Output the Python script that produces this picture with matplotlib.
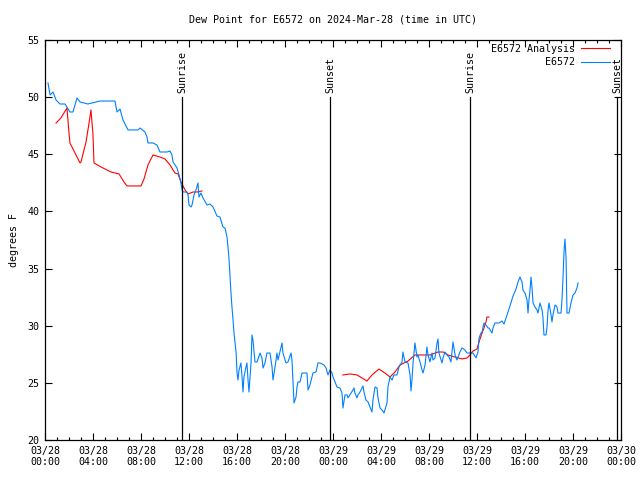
import numpy as np
import pandas as pd
import matplotlib
matplotlib.use("Agg")
import matplotlib.pyplot as plt
import matplotlib.dates as mdates

plt.rcParams['font.family'] = ['DejaVu Sans Mono']
plt.rcParams['font.size'] = 7.2

base = pd.Timestamp("2024-03-28 00:00")

# station obs: hours since 03/28 00:00 UTC, dew point degF
obs_hours = [0.25, 0.42, 0.67, 0.92, 1.25, 1.67, 2.08, 2.33, 2.67, 2.92, 3.58, 4.58, 5.83, 6.0, 6.25,
             6.5, 6.92, 7.75, 7.92, 8.33, 8.5, 8.58, 9.0, 9.33, 9.58, 10.17, 10.42, 10.58, 10.67, 11.0,
             11.17, 11.33, 11.42, 11.5, 11.83, 11.92, 12.0, 12.17, 12.25, 12.42, 12.58, 12.75, 12.83, 13.0, 13.17,
             13.5, 13.75, 14.0, 14.33, 14.58, 14.83, 15.0, 15.17, 15.25, 15.33, 15.42, 15.5, 15.58, 15.67, 15.75,
             15.92, 16.0, 16.08, 16.17, 16.33, 16.42, 16.5, 16.58, 16.75, 16.83, 16.92, 17.0, 17.17, 17.25, 17.33,
             17.5, 17.67, 17.92, 18.08, 18.17, 18.33, 18.5, 18.75, 18.92, 19.0, 19.17, 19.33, 19.42, 19.75, 19.83,
             20.08, 20.25, 20.5, 20.58, 20.67, 20.75, 20.92, 21.0, 21.08, 21.25, 21.42, 21.83, 21.92, 22.08, 22.25,
             22.33, 22.58, 22.75, 22.92, 23.25, 23.42, 23.58, 23.75, 23.92, 24.0, 24.17, 24.33, 24.58, 24.75, 24.83,
             25.0, 25.17, 25.25, 25.5, 25.67, 25.75, 25.83, 26.0, 26.08, 26.25, 26.5, 26.58, 26.75, 26.92, 27.08,
             27.25, 27.33, 27.5, 27.67, 27.75, 27.92, 28.08, 28.25, 28.5, 28.58, 28.75, 28.92, 29.08, 29.33, 29.5,
             29.75, 29.83, 30.0, 30.25, 30.42, 30.5, 30.58, 30.67, 30.83, 31.0, 31.08, 31.25, 31.42, 31.5, 31.67,
             31.83, 31.92, 32.08, 32.25, 32.33, 32.5, 32.67, 32.75, 32.83, 33.08, 33.17, 33.33, 33.5, 33.67, 33.83,
             34.0, 34.17, 34.33, 34.42, 34.58, 34.75, 35.0, 35.17, 35.33, 35.67, 35.92, 36.08, 36.17, 36.33, 36.42,
             36.58, 36.75, 36.92, 37.0, 37.25, 37.33, 37.5, 37.83, 38.08, 38.25, 38.5, 38.75, 39.0, 39.25, 39.42,
             39.58, 39.75, 39.83, 40.0, 40.17, 40.25, 40.33, 40.42, 40.5, 40.58, 40.67, 40.83, 41.0, 41.08, 41.25,
             41.42, 41.5, 41.58, 41.75, 41.83, 41.92, 42.0, 42.17, 42.25, 42.33, 42.5, 42.67, 42.75, 43.0, 43.08,
             43.17, 43.25, 43.33, 43.42, 43.5, 43.67, 43.83, 44.0, 44.17, 44.33, 44.42]
obs_dewp = [51.24, 50.19, 50.45, 49.75, 49.4, 49.4, 48.7, 48.7, 49.93, 49.58, 49.4, 49.66, 49.66, 48.7, 48.96,
            48.0, 47.13, 47.13, 47.3, 46.95, 46.51, 45.99, 45.99, 45.81, 45.2, 45.2, 45.29, 44.94, 44.33, 43.8,
            43.19, 42.49, 41.88, 41.7, 41.7, 41.44, 40.56, 40.39, 40.56, 41.44, 41.88, 42.49, 41.26, 41.61, 41.18,
            40.56, 40.65, 40.39, 39.6, 39.51, 38.64, 38.55, 37.76, 36.8, 35.93, 34.26, 32.86, 31.64, 30.5, 29.36,
            27.7, 25.95, 25.25, 26.13, 26.74, 25.51, 24.2, 25.51, 26.39, 26.74, 25.25, 24.2, 26.74, 29.19, 28.75,
            26.83, 26.83, 27.61, 27.18, 26.3, 26.74, 27.61, 27.61, 26.39, 25.25, 26.39, 27.61, 27.0, 28.49, 27.61,
            26.74, 26.83, 27.61, 27.0, 25.08, 23.24, 23.76, 24.64, 25.08, 25.08, 25.86, 25.86, 24.38, 24.81, 25.51,
            25.86, 25.95, 26.74, 26.74, 26.56, 26.3, 25.69, 26.13, 25.86, 25.51, 25.08, 24.64, 24.55, 24.11, 22.8,
            23.94, 23.94, 23.68, 24.11, 24.38, 24.55, 24.11, 23.68, 23.94, 24.2, 24.73, 24.2, 23.5, 23.33, 22.89,
            22.45, 23.5, 24.64, 24.55, 23.68, 22.8, 22.63, 22.36, 23.24, 24.64, 25.51, 25.25, 25.69, 25.69, 26.39,
            26.83, 27.7, 26.83, 26.74, 25.69, 24.29, 25.25, 26.74, 28.49, 27.26, 27.44, 26.83, 26.13, 25.86, 26.56,
            28.14, 27.44, 26.83, 27.61, 27.0, 27.18, 28.49, 28.84, 27.61, 26.74, 27.18, 27.7, 27.44, 27.26, 26.83,
            28.58, 27.44, 27.0, 27.26, 27.7, 28.05, 27.88, 27.61, 27.61, 27.61, 27.18, 27.7, 28.93, 29.36, 29.45,
            30.24, 30.06, 29.8, 29.8, 29.36, 29.8, 30.24, 30.24, 30.41, 30.15, 30.94, 31.73, 32.6, 33.21, 33.83,
            34.26, 33.83, 33.13, 32.86, 32.25, 31.11, 32.25, 33.13, 34.26, 33.39, 31.99, 31.64, 31.38, 31.11, 31.99,
            31.38, 30.68, 29.19, 29.19, 29.8, 31.38, 31.99, 30.94, 30.33, 30.94, 31.81, 31.64, 31.11, 31.11, 32.25,
            34.26, 36.45, 37.59, 35.93, 31.11, 31.11, 31.99, 32.69, 32.86, 33.3, 33.74]

# analysis (NaN = no data gap)
ana_hours = [0.92, 1.33, 1.83, 2.0, 2.08, 2.92, 3.0, 3.42, 3.67, 3.83, 4.0, 4.08, 4.67, 5.5, 6.17,
             6.58, 6.83, 8.0, 8.25, 8.58, 9.0, 9.58, 10.0, 10.42, 10.83, 11.08, 11.33, 11.67, 11.92, 12.33,
             12.67, 13.08, 18.0,
             24.83, 25.42, 26.0, 26.42, 26.83, 27.25, 27.83, 28.33, 28.75, 29.17, 29.58, 30.25, 30.83, 32.08, 32.75,
             33.17, 33.58, 34.17, 34.75, 35.17, 35.42, 35.67, 36.0, 36.17, 36.42, 36.58, 36.75, 36.83, 37.0]
ana_dewp = [47.74, 48.18, 49.05, 46.86, 45.99, 44.24, 44.33, 46.08, 47.74, 48.88, 46.69, 44.24, 43.89, 43.45, 43.28,
            42.58, 42.23, 42.23, 42.84, 44.06, 44.94, 44.76, 44.59, 44.06, 43.36, 43.28, 42.58, 41.88, 41.53, 41.7,
            41.7, 41.79, np.nan,
            25.69, 25.78, 25.69, 25.43, 25.16, 25.69, 26.21, 25.86, 25.51, 25.95, 26.56, 26.91, 27.44, 27.44, 27.7,
            27.7, 27.44, 27.26, 27.09, 27.18, 27.44, 27.79, 27.96, 28.58, 29.36, 29.8, 30.33, 30.76, 30.76]

sun_hours = [11.42, 23.75, 35.42, 47.67]
sun_labels = ["Sunrise", "Sunset", "Sunrise", "Sunset"]

obs_t = base + pd.to_timedelta(obs_hours, unit="h")
ana_t = base + pd.to_timedelta(ana_hours, unit="h")
sun_t = base + pd.to_timedelta(sun_hours, unit="h")

fig = plt.figure(figsize=(6.4, 4.8), dpi=100)
ax = fig.add_axes([45/640, 40/480, 576/640, 400/480])

ax.plot(ana_t, ana_dewp, color="#ff0000", lw=0.8, label="E6572 Analysis")
ax.plot(obs_t, obs_dewp, color="#0080ff", lw=0.8, label="E6572")

for t, lab in zip(sun_t, sun_labels):
    ax.axvline(t, ymin=0, ymax=0.857, color="black", lw=0.9)
    ax.text(t, 0.867, lab, rotation=90, ha="center", va="bottom",
            transform=ax.get_xaxis_transform())

ax.set_xlim(base, base + pd.Timedelta(hours=48))
ax.set_ylim(20, 55)
ax.set_yticks(range(20, 56, 5))
ax.xaxis.set_major_locator(mdates.HourLocator(byhour=range(0, 24, 4)))
ax.xaxis.set_minor_locator(mdates.HourLocator())
ax.xaxis.set_major_formatter(mdates.DateFormatter("%m/%d\n%H:%M"))
ax.tick_params(which="both", direction="in", top=True, right=True, width=0.8)
ax.tick_params(which="major", length=5, pad=4)
ax.tick_params(which="minor", length=2.5)
for s in ax.spines.values():
    s.set_linewidth(0.9)

ax.set_ylabel("degrees F", labelpad=6)
fig.text(333/640, 1 - 20/480, "Dew Point for E6572 on 2024-Mar-28 (time in UTC)",
         ha="center", va="center")

ax.legend(loc="upper right", frameon=False, markerfirst=False, handlelength=2.9,
          handletextpad=0.6, borderaxespad=0, labelspacing=0.35,
          bbox_to_anchor=(0.988, 1.0))

fig.savefig("out.png", dpi=100)
